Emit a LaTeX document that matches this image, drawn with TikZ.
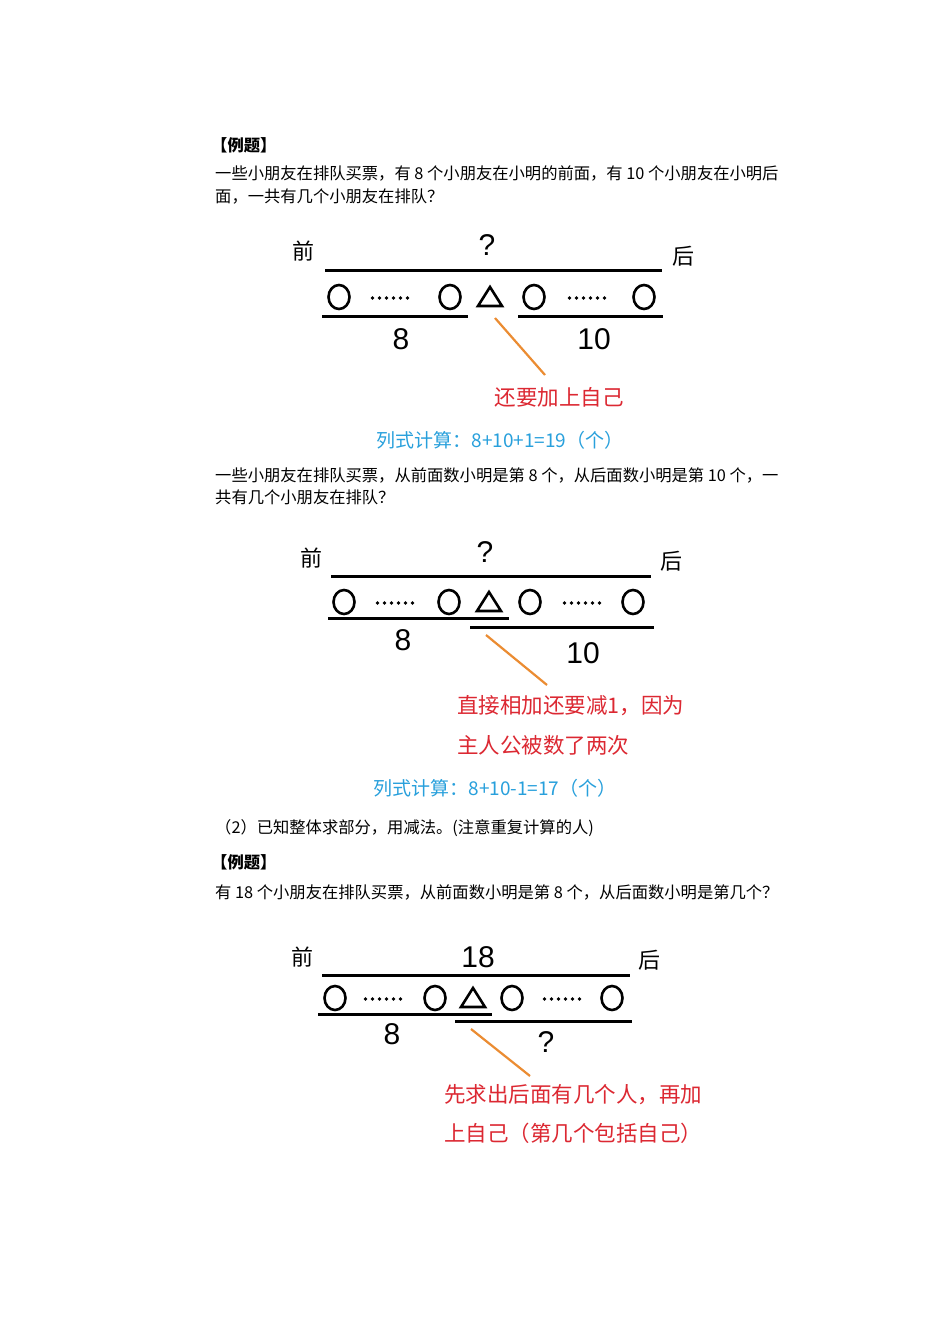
\documentclass[tikz,border=0pt]{standalone}
\usepackage{fontspec}
\usetikzlibrary{shapes.geometric}
\setmainfont{Liberation Sans}
\newfontfamily\cjk{Noto Sans CJK SC}
\definecolor{myred}{RGB}{220,40,50}
\definecolor{myblue}{RGB}{40,160,220}
\definecolor{myorange}{RGB}{235,140,50}
\begin{document}
\begin{tikzpicture}[x=1pt,y=-1pt,
 body/.style={anchor=west,inner sep=0,font=\cjk\fontsize{16.3}{18}\selectfont},
 lab/.style={inner sep=0,font=\cjk\fontsize{22}{24}\selectfont},
 num/.style={inner sep=0,font=\fontsize{30}{32}\selectfont},
 red/.style={inner sep=0,text=myred,font=\cjk\fontsize{21.5}{24}\selectfont},
 blue/.style={inner sep=0,text=myblue,font=\cjk\fontsize{19}{22}\selectfont},
 bar/.style={line width=3pt},
 circ/.style={ellipse,draw,line width=2.6pt,minimum width=21pt,minimum height=24pt,inner sep=0},
 ptr/.style={myorange,line width=2.2pt}]
\useasboundingbox[fill=white] (0,0) rectangle (950,1344);
\newcommand\tri[2]{\draw[line width=2.6pt,line join=miter] (#1-12,#2+9) -- (#1,#2-10) -- (#1+12,#2+9) -- cycle;}
\newcommand\dotrow[2]{\foreach \k in {0,...,5}{\fill (#1-17.5+7*\k,#2) circle (1.8pt);}}
% text block 1
\node[body,font=\cjk\bfseries\fontsize{16.3}{18}\selectfont] (h1) at (211,145) {【例题】};
\node[body] (t1) at (215,173) {一些小朋友在排队买票，有 8 个小朋友在小明的前面，有 10 个小朋友在小明后};
\node[body] (t2) at (215,197) {面，一共有几个小朋友在排队？};
% diagram 1
\node[lab] (f1) at (303,251) {前};
\node[num] (q1) at (487,245) {?};
\node[lab] (b1) at (683,256) {后};
\draw[bar] (325,270) -- (662,270);
\node[circ] (c11) at (339,297) {};
\dotrow{390}{298}
\node[circ] (c12) at (450,297) {};
\tri{490}{297}
\node[circ] (c13) at (534,297) {};
\dotrow{587}{298}
\node[circ] (c14) at (644,297) {};
\draw[bar] (322,316) -- (468,316);
\draw[bar] (518,316) -- (663,316);
\node[num] (n11) at (401,339) {8};
\node[num] (n12) at (594,339) {10};
\coordinate (p1) at (495,318);
\node[red] (r1) at (559,397) {还要加上自己};
\draw[ptr] (p1) -- (545,375);
\node[blue] (s1) at (500,440) {列式计算：8+10+1=19（个）};
% text block 2
\node[body] (t3) at (215,475) {一些小朋友在排队买票，从前面数小明是第 8 个，从后面数小明是第 10 个，一};
\node[body] (t4) at (215,497) {共有几个小朋友在排队？};
% diagram 2
\node[lab] (f2) at (311,558) {前};
\node[num] (q2) at (485,552) {?};
\node[lab] (b2) at (671,561) {后};
\draw[bar] (331,576) -- (651,576);
\node[circ] (c21) at (344,602) {};
\dotrow{395}{603}
\node[circ] (c22) at (449,602) {};
\tri{489}{602}
\node[circ] (c23) at (530,602) {};
\dotrow{582}{603}
\node[circ] (c24) at (633,602) {};
\draw[bar] (328,618) -- (509,618);
\draw[bar] (470,627) -- (654,627);
\node[num] (n21) at (403,640) {8};
\node[num] (n22) at (583,653) {10};
\coordinate (p2) at (486,635);
\draw[ptr] (p2) -- (547,685);
\node[red,anchor=west] (r2) at (457,706) {直接相加还要减1，因为};
\node[red,anchor=west] (r3) at (457,745) {主人公被数了两次};
\node[blue] (s2) at (495,788) {列式计算：8+10-1=17（个）};
% text block 3
\node[body] (t5) at (215,828) {（2）已知整体求部分，用减法。(注意重复计算的人)};
\node[body,font=\cjk\bfseries\fontsize{16.3}{18}\selectfont] (h2) at (211,862) {【例题】};
\node[body] (t6) at (215,892) {有 18 个小朋友在排队买票，从前面数小明是第 8 个，从后面数小明是第几个？};
% diagram 3
\node[lab] (f3) at (302,957) {前};
\node[num] (q3) at (478,957) {18};
\node[lab] (b3) at (649,960) {后};
\draw[bar] (322,975) -- (630,975);
\node[circ] (c31) at (335,998) {};
\dotrow{383}{999}
\node[circ] (c32) at (435,998) {};
\tri{473}{998}
\node[circ] (c33) at (512,998) {};
\dotrow{562}{999}
\node[circ] (c34) at (612,998) {};
\draw[bar] (318,1014) -- (492,1014);
\draw[bar] (455,1021) -- (632,1021);
\node[num] (n31) at (392,1034) {8};
\node[num] (q32) at (546,1042) {?};
\coordinate (p3) at (471,1029);
\draw[ptr] (p3) -- (530,1076);
\node[red,anchor=west] (r4) at (444,1095) {先求出后面有几个人，再加};
\node[red,anchor=west] (r5) at (444,1133) {上自己（第几个包括自己）};
\end{tikzpicture}
\end{document}
